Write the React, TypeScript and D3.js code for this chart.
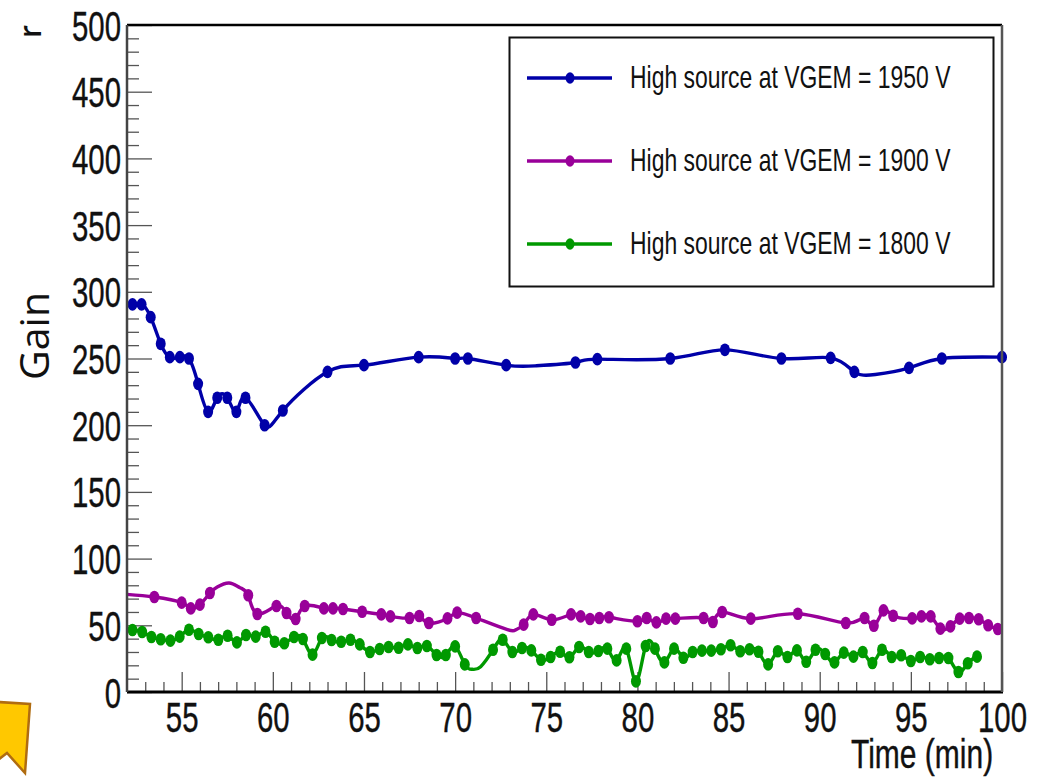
import React, { useEffect, useRef } from "react";
import * as d3 from "d3";

const WIDTH = 1045;
const HEIGHT = 779;
const MARGIN = { top: 25, right: 43, bottom: 87, left: 127 };
const FONT = "'Liberation Sans', Arial, sans-serif";

const blueTime = [52.3, 52.8, 53.3, 53.85, 54.35, 54.9, 55.4, 55.9, 56.45, 56.95, 57.5, 58, 58.5, 59.55, 60.55, 63, 65, 68, 70, 70.7, 72.8, 74.4, 76.6, 77.8, 81.8, 84.8, 87.9, 90.6, 91.9, 93.05, 94.9, 96.7, 100];
const blueGain = [290.6, 290.6, 281, 261, 251, 251, 250, 231, 210, 220.6, 220.6, 210, 220.6, 200, 211, 240, 245, 251, 250, 250, 245, 244.5, 247, 249.5, 250, 256.5, 250, 250.5, 240, 238, 243, 250, 251];

const purpleTime = [52, 53.5, 55, 55.5, 56, 56.55, 56.95, 57.6, 58.2, 58.65, 59.15, 60.2, 60.75, 61.25, 61.75, 62.8, 63.3, 63.85, 64.9, 65.95, 66.45, 67.5, 68.03, 68.56, 69.58, 70.11, 71.15, 72.87, 73.33, 73.76, 74.29, 75.3, 76.36, 76.89, 77.4, 77.91, 78.44, 80, 80.51, 81.04, 81.57, 82.08, 83.63, 84.14, 84.65, 86.22, 88.8, 91.43, 92.46, 92.97, 93.5, 94.03, 95.07, 95.58, 96.09, 96.62, 97.17, 97.68, 98.19, 98.72, 99.24, 99.77];
const purpleGain = [73.2, 71.2, 67, 62.7, 65.5, 74.2, 78.7, 81.7, 78.2, 72.5, 58.5, 64.5, 59.2, 54.7, 64.5, 62.7, 62.7, 62.2, 60.2, 58.2, 56.7, 55.5, 57, 51.7, 55.2, 59.5, 55.5, 46.7, 46.7, 50.5, 58.2, 54.2, 58.2, 56.7, 54.7, 55.5, 56, 53, 55.5, 52.2, 55, 55, 55.5, 52.5, 60, 55, 58.7, 51.7, 55.5, 49.7, 61.2, 57.2, 55.2, 56.7, 56.7, 47.5, 49.2, 55, 55.5, 54.5, 50, 47.2];

const greenTime = [52.3, 52.83, 53.34, 53.85, 54.38, 54.89, 55.4, 55.93, 56.46, 57.01, 57.52, 58.03, 58.53, 59.06, 59.6, 60.1, 60.63, 61.16, 61.65, 62.18, 62.69, 63.22, 63.75, 64.26, 64.77, 65.33, 65.86, 66.35, 66.9, 67.41, 67.93, 68.45, 68.98, 69.49, 70, 70.53, 70.95, 71.4, 72.08, 72.61, 73.14, 73.67, 74.18, 74.71, 75.24, 75.76, 76.27, 76.8, 77.33, 77.86, 78.35, 78.86, 79.39, 79.92, 80.45, 80.96, 81.48, 82.01, 82.52, 83.03, 83.54, 84.05, 84.58, 85.11, 85.64, 86.15, 86.64, 87.17, 87.7, 88.23, 88.75, 89.26, 89.77, 90.3, 90.81, 91.32, 91.85, 92.36, 92.89, 93.42, 93.95, 94.47, 95, 95.51, 96.04, 96.55, 97.06, 97.61, 98.12, 98.63];
const greenGain = [46.5, 45, 41.2, 39.5, 38.5, 41.5, 46.7, 43.5, 41, 39.2, 42.2, 37.2, 42.7, 41.5, 45.2, 37.7, 36.5, 41.2, 39.7, 28, 40.5, 39, 37.7, 39.2, 35.7, 30, 32.2, 33.7, 33.2, 35.7, 33, 34.5, 27.7, 27.7, 34.2, 20.7, 17, 19, 31.7, 39.2, 30, 33, 31.2, 24.2, 26.2, 30.2, 26, 33.7, 30, 30.7, 32.5, 23.7, 32.5, 8, 34.5, 32.5, 22.2, 32.5, 25.7, 30, 31, 31, 32, 35, 30.5, 32, 30.2, 20.7, 30.5, 26.2, 31.2, 22.7, 31.7, 28.5, 22.2, 29.5, 26.5, 30, 21.7, 31.7, 26.2, 27.5, 23.2, 26.2, 24.5, 25.5, 25.5, 15, 21.5, 26.5];

// times where the curve was read off the picture but no marker is drawn
const blueNoMarker = [74.4, 93.05];
const purpleNoMarker = [52, 56.95, 57.6, 58.2, 72.87, 73.33];
const greenNoMarker = [70.95, 71.4];

const seriesNames = ["High source at VGEM = 1950 V", "High source at VGEM = 1900 V", "High source at VGEM = 1800 V"];
const seriesColors = ["#0000a8", "#990099", "#009900"];
const seriesTimes = [blueTime, purpleTime, greenTime];
const seriesGains = [blueGain, purpleGain, greenGain];
const seriesNoMarker = [blueNoMarker, purpleNoMarker, greenNoMarker];

const xMajor = [55, 60, 65, 70, 75, 80, 85, 90, 95, 100];
const yMajor = [0, 50, 100, 150, 200, 250, 300, 350, 400, 450, 500];
const legendRows = [78, 161, 244];

const App = () => {
  const axesRef = useRef<SVGGElement>(null);
  const boundsWidth = WIDTH - MARGIN.left - MARGIN.right;
  const boundsHeight = HEIGHT - MARGIN.top - MARGIN.bottom;

  const xScale = d3.scaleLinear().domain([52, 100]).range([0, boundsWidth]);
  const yScale = d3.scaleLinear().domain([0, 500]).range([boundsHeight, 0]);

  const line = d3
    .line<[number, number]>()
    .x((d) => xScale(d[0]))
    .y((d) => yScale(d[1]))
    .curve(d3.curveNatural);

  // Ticks point inwards, ROOT style
  useEffect(() => {
    const svgElement = d3.select(axesRef.current);
    svgElement.selectAll("*").remove();

    const xMinor = d3.range(53, 100).filter((d) => d % 5 !== 0);
    const yMinor = d3.range(10, 500, 10).filter((d) => d % 50 !== 0);

    const xMinorAxis = d3.axisBottom(xScale).tickValues(xMinor).tickSize(-10).tickFormat(() => "");
    const xMajorAxis = d3.axisBottom(xScale).tickValues(xMajor).tickSize(-20).tickPadding(8);
    const yMinorAxis = d3.axisLeft(yScale).tickValues(yMinor).tickSize(-12).tickFormat(() => "");
    const yMajorAxis = d3.axisLeft(yScale).tickValues(yMajor).tickSize(-25).tickPadding(8);

    const gx1 = svgElement.append("g").attr("transform", `translate(0,${boundsHeight})`).call(xMinorAxis);
    const gx2 = svgElement.append("g").attr("transform", `translate(0,${boundsHeight})`).call(xMajorAxis);
    const gy1 = svgElement.append("g").call(yMinorAxis);
    const gy2 = svgElement.append("g").call(yMajorAxis);

    [gx1, gx2, gy1, gy2].forEach((g) => {
      g.select(".domain").remove();
      g.selectAll("line").attr("stroke", "#555").attr("stroke-width", 1.3);
    });

    gx2
      .selectAll("text")
      .attr("font-family", FONT)
      .attr("font-size", 42)
      .attr("fill", "#111")
      .attr("stroke", "#111")
      .attr("stroke-width", 0.4)
      .attr("text-anchor", "middle")
      .attr("dy", 0)
      .attr("y", 0)
      .attr("transform", "translate(0,40) scale(0.7,1)");

    gy2
      .selectAll("text")
      .attr("font-family", FONT)
      .attr("font-size", 42)
      .attr("fill", "#111")
      .attr("stroke", "#111")
      .attr("stroke-width", 0.4)
      .attr("text-anchor", "end")
      .attr("dy", 0)
      .attr("x", 0)
      .attr("transform", "translate(-6,15) scale(0.7,1)");
  }, []);

  return (
    <svg width={WIDTH} height={HEIGHT} style={{ position: "absolute", left: 0, top: 0 }}>
      <rect width={WIDTH} height={HEIGHT} fill="#fff" />
      <g transform={`translate(${MARGIN.left},${MARGIN.top})`}>
        <g ref={axesRef} />

        {seriesNames.map((name, s) => {
          const pts = seriesTimes[s].map((t, i) => [t, seriesGains[s][i]] as [number, number]);
          const marked = pts.filter((d) => !seriesNoMarker[s].includes(d[0]));
          return (
            <g key={name}>
              <path d={line(pts) ?? ""} fill="none" stroke={seriesColors[s]} strokeWidth={3.4} />
              {marked.map((d, i) => (
                <ellipse key={i} cx={xScale(d[0])} cy={yScale(d[1])} rx={5} ry={6.3} fill={seriesColors[s]} />
              ))}
            </g>
          );
        })}

        {/* frame */}
        <line x1={0} x2={boundsWidth} y1={0} y2={0} stroke="#000" strokeWidth={2.5} />
        <line x1={0} x2={boundsWidth + 1} y1={boundsHeight} y2={boundsHeight} stroke="#000" strokeWidth={3} />
        <line x1={0} x2={0} y1={0} y2={boundsHeight} stroke="#444" strokeWidth={2.5} />
        <line x1={boundsWidth} x2={boundsWidth} y1={0} y2={boundsHeight} stroke="#555" strokeWidth={2.5} />
      </g>

      {/* legend */}
      <rect x={509.5} y={37.5} width={484} height={249} fill="#fff" stroke="#111" strokeWidth={2} />
      {seriesNames.map((name, s) => (
        <g key={name} transform={`translate(0,${legendRows[s]})`}>
          <line x1={527} x2={612} y1={0} y2={0} stroke={seriesColors[s]} strokeWidth={3.4} />
          <ellipse cx={570} cy={0} rx={4.5} ry={5.8} fill={seriesColors[s]} />
          <text
            transform="translate(630,10) scale(0.74,1)"
            fontFamily={FONT}
            fontSize={31}
            fill="#111"
          >
            {name}
          </text>
        </g>
      ))}

      {/* axis titles */}
      <text
        transform="translate(851,768) scale(0.75,1)"
        fontFamily={FONT}
        fontSize={40}
        fill="#111"
        stroke="#111"
        strokeWidth={0.4}
      >
        Time (min)
      </text>
      <text
        transform="translate(49,380) rotate(-90)"
        fontFamily="'Open Sans', sans-serif"
        fontSize={41}
        fill="#111"
      >
        Gain
      </text>
      <text
        transform="translate(41,38) rotate(-90)"
        fontFamily="'Open Sans', sans-serif"
        fontSize={30}
        fontWeight={600}
        fill="#111"
      >
        r
      </text>

      {/* ribbon left over on the slide */}
      <path d="M-2,702 L30,704 L25,773 L7,753 L-2,760 Z" fill="#ffc800" stroke="#b06c10" strokeWidth={2.5} />
    </svg>
  );
};

export default App;
